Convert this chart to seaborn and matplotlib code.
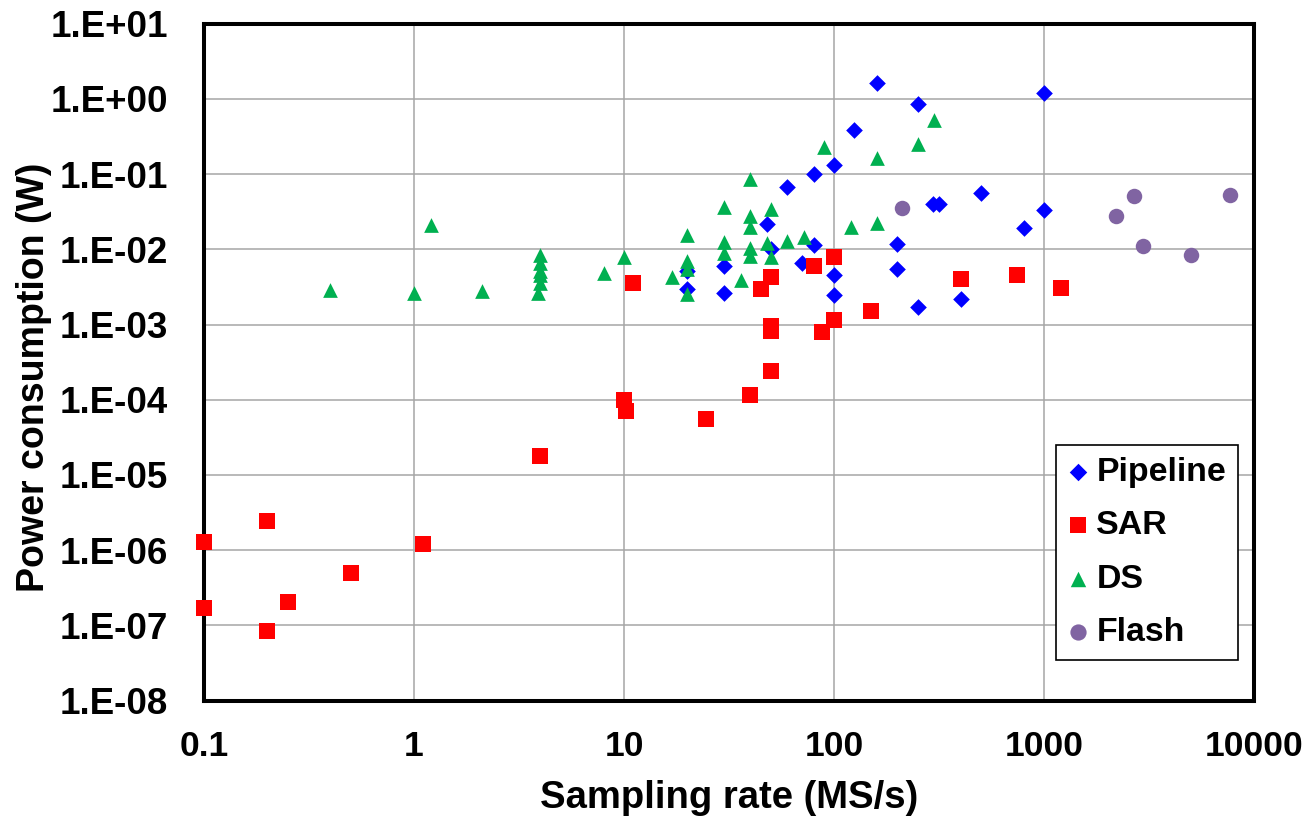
import matplotlib
matplotlib.use("Agg")
import matplotlib.pyplot as plt
import seaborn as sns
import pandas as pd
from matplotlib.ticker import FixedLocator, NullLocator

# ---- data ----
pipe_x = [160, 250, 1000, 124, 100, 80, 60, 48, 50, 80, 30, 20, 20, 30, 70, 100, 100,
          200, 200, 250, 297, 317, 500, 1000, 800, 400]
pipe_y = [1.65, 0.86, 1.21, 0.387, 0.131, 0.1, 0.068, 0.0218, 0.0102, 0.0113, 0.006,
          0.0052, 0.003, 0.0026, 0.0065, 0.0046, 0.0025, 0.0117, 0.0054, 0.0017,
          0.040, 0.040, 0.0557, 0.0331, 0.019, 0.00217]

sar_x = [0.1, 0.1, 0.2, 0.2, 0.25, 0.5, 1.1, 4, 10, 10.2, 11, 24.5, 40, 50, 45, 50, 50,
         50, 80, 100, 88, 100, 150, 400, 747, 1200]
sar_y = [1.3e-6, 1.72e-7, 2.44e-6, 8.4e-8, 2.03e-7, 5.0e-7, 1.22e-6, 1.77e-5, 1.0e-4,
         7.0e-5, 0.0036, 5.5e-5, 1.15e-4, 2.4e-4, 0.0030, 0.0043, 0.00095, 0.00082,
         0.006, 0.008, 0.0008, 0.00115, 0.00153, 0.00404, 0.0045, 0.0031]

ds_x = [0.4, 1, 1.2, 2.1, 3.9, 4, 4, 4, 4, 4, 8, 10, 17, 20, 20, 20, 20, 30, 30, 30, 36,
        40, 40, 40, 40, 40, 48, 50, 50, 60, 72, 90, 120, 160, 160, 250, 300]
ds_y = [0.0029, 0.0026, 0.021, 0.0028, 0.00266, 0.0084, 0.0066, 0.0052, 0.0045, 0.0036,
        0.0049, 0.008, 0.0043, 0.0157, 0.0069, 0.0055, 0.00255, 0.0363, 0.0126, 0.009,
        0.0039, 0.0855, 0.0278, 0.020, 0.0103, 0.0082, 0.012, 0.034, 0.00785, 0.0128,
        0.0148, 0.232, 0.0197, 0.163, 0.0226, 0.255, 0.53]

flash_x = [210, 2190, 2685, 2972, 5000, 7640]
flash_y = [0.0352, 0.0275, 0.0508, 0.0111, 0.0085, 0.0524]

x_ticks = [0.1, 1, 10, 100, 1000, 10000]
x_tick_labels = ["0.1", "1", "10", "100", "1000", "10000"]
y_ticks = [1e1, 1e0, 1e-1, 1e-2, 1e-3, 1e-4, 1e-5, 1e-6, 1e-7, 1e-8]
y_tick_labels = ["1.E+01", "1.E+00", "1.E-01", "1.E-02", "1.E-03",
                 "1.E-04", "1.E-05", "1.E-06", "1.E-07", "1.E-08"]

series = [
    ("Pipeline", pipe_x, pipe_y, "D", "#0000FF", 72),
    ("SAR", sar_x, sar_y, "s", "#FF0000", 118),
    ("DS", ds_x, ds_y, "^", "#00B050", 112),
    ("Flash", flash_x, flash_y, "o", "#8064A2", 124),
]

sns.set_theme(style="white")
plt.rcParams["font.family"] = ["Liberation Sans", "DejaVu Sans"]
plt.rcParams["font.weight"] = "bold"
plt.rcParams["text.color"] = "black"

fig = plt.figure(figsize=(13.11, 8.17), dpi=100)
ax = fig.add_axes([0.1556, 0.1425, 0.801, 0.8284])

for name, xs, ys, mk, col, s in series:
    df = pd.DataFrame({"x": xs, "y": ys})
    sns.scatterplot(data=df, x="x", y="y", marker=mk, color=col, s=s,
                    linewidth=0, ax=ax, label=name, zorder=3, clip_on=False)

ax.set_xscale("log")
ax.set_yscale("log")
ax.set_xlim(0.1, 10000)
ax.set_ylim(1e-8, 10)

ax.xaxis.set_major_locator(FixedLocator(x_ticks))
ax.yaxis.set_major_locator(FixedLocator(y_ticks))
ax.xaxis.set_minor_locator(NullLocator())
ax.yaxis.set_minor_locator(NullLocator())
ax.set_xticklabels(x_tick_labels)
ax.set_yticklabels(y_tick_labels)
ax.tick_params(axis="both", length=0, colors="black")
ax.tick_params(axis="x", pad=21, labelsize=25.5)
ax.tick_params(axis="y", pad=26, labelsize=26.5)
for lab in ax.get_xticklabels() + ax.get_yticklabels():
    lab.set_fontweight("bold")

ax.grid(True, which="major", color="#A6A6A6", linewidth=1.1)
ax.set_axisbelow(True)
for sp in ax.spines.values():
    sp.set_visible(True)
    sp.set_color("black")
    sp.set_linewidth(2.9)

ax.set_xlabel("Sampling rate (MS/s)", fontsize=27.5, fontweight="bold", color="black")
ax.set_ylabel("Power consumption (W)", fontsize=27, fontweight="bold", color="black",
              va="center")
ax.xaxis.set_label_coords(0.5, -0.118)
ax.yaxis.set_label_coords(-0.162, 0.477)

leg = ax.legend(loc="upper right", bbox_to_anchor=(0.985, 0.378), borderaxespad=0,
                frameon=True, fancybox=False, edgecolor="black", framealpha=1,
                prop={"size": 24.4, "weight": "bold"}, handletextpad=0.22,
                handlelength=0.62, labelspacing=0.66, borderpad=0.36, markerscale=1.05)
leg.get_frame().set_linewidth(1.2)
for t in leg.get_texts():
    t.set_color("black")

fig.savefig("out.png", dpi=100)
